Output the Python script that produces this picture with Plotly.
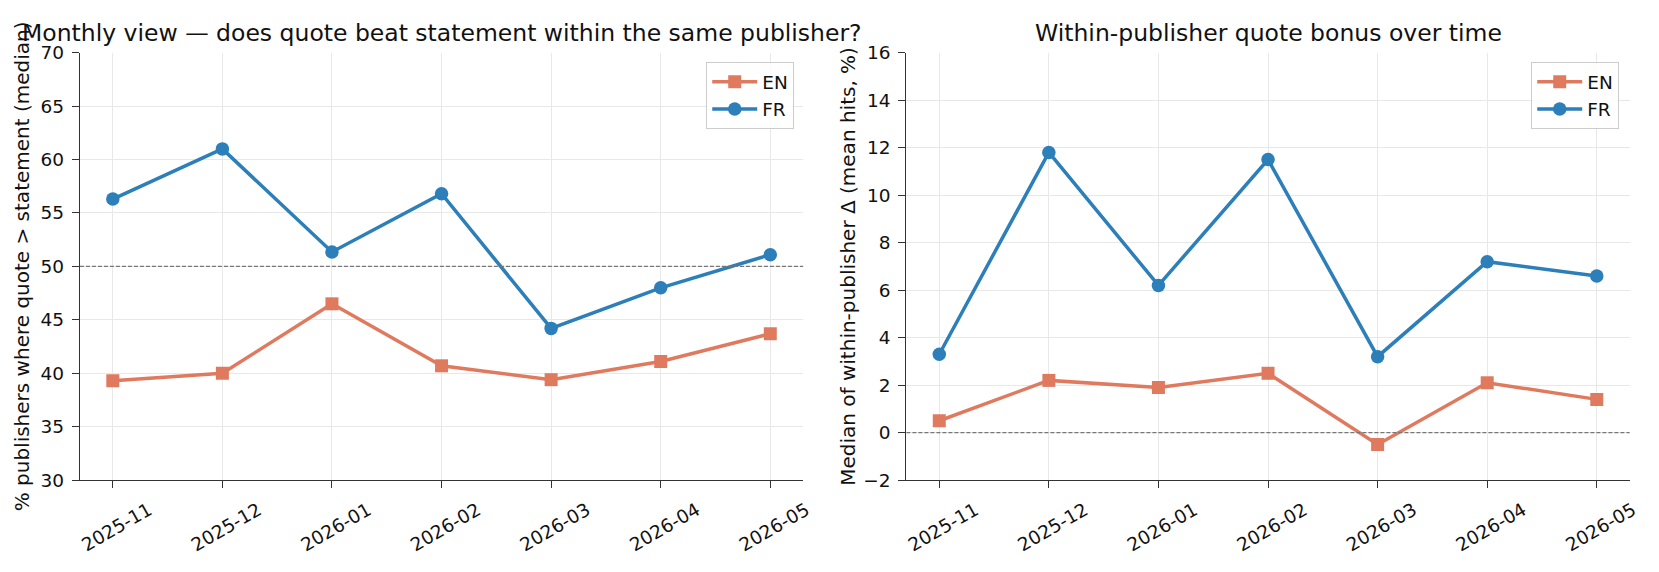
import plotly.graph_objects as go

months = ["2025-11", "2025-12", "2026-01", "2026-02", "2026-03", "2026-04", "2026-05"]
share_en = [39.3, 40.0, 46.5, 40.7, 39.4, 41.1, 43.7]
share_fr = [56.3, 61.0, 51.35, 56.8, 44.2, 48.0, 51.1]
delta_en = [0.5, 2.2, 1.9, 2.5, -0.5, 2.1, 1.4]
delta_fr = [3.3, 11.8, 6.2, 11.5, 3.2, 7.2, 6.6]

EN_COLOR = "#E07A5F"
FR_COLOR = "#2C7FB8"
FONT = "DejaVu Sans"
W, H = 1659, 572
TICK_SIZE = 18.5
LABEL_SIZE = 20
LEGEND_SIZE = 18.5
TITLE_SIZE = 23.5

idx = list(range(len(months)))


def series(y, name, color, symbol, msize, xa, ya, leg):
    return go.Scatter(x=idx, y=y, name=name, mode="lines+markers",
                      line=dict(color=color, width=3.5),
                      marker=dict(symbol=symbol, size=msize, color=color),
                      xaxis=xa, yaxis=ya, legend=leg)


fig = go.Figure()
fig.add_trace(series(share_en, "EN", EN_COLOR, "square", 13, "x", "y", "legend"))
fig.add_trace(series(share_fr, "FR", FR_COLOR, "circle", 13.5, "x", "y", "legend"))
fig.add_trace(series(delta_en, "EN", EN_COLOR, "square", 13, "x2", "y2", "legend2"))
fig.add_trace(series(delta_fr, "FR", FR_COLOR, "circle", 13.5, "x2", "y2", "legend2"))

x1d = [78.5 / W, 807 / W]
x2d = [911 / W, 1639.5 / W]
yd = [1 - 487 / H, 1 - 43.3 / H]

common_x = dict(tickmode="array", tickvals=idx, ticktext=months, tickangle=-30,
                ticklabelshift=36, ticklabelstandoff=4,
                range=[-0.3, 6.3], showgrid=True, gridcolor="#e8e8e8", gridwidth=1,
                showline=True, linecolor="#333333", linewidth=1.4,
                ticks="outside", ticklen=7, tickcolor="#333333", tickwidth=1.4,
                tickfont=dict(family=FONT, size=TICK_SIZE, color="#111111"), zeroline=False)
common_y = dict(showgrid=True, gridcolor="#e8e8e8", gridwidth=1,
                showline=True, linecolor="#333333", linewidth=1.4,
                ticks="outside", ticklen=7, tickcolor="#333333", tickwidth=1.4,
                ticklabelstandoff=4,
                tickfont=dict(family=FONT, size=TICK_SIZE, color="#111111"), zeroline=False)

legend_common = dict(xanchor="right", yanchor="top", itemwidth=45,
                     bgcolor="rgba(255,255,255,0.85)", bordercolor="#cccccc", borderwidth=1,
                     font=dict(family=FONT, size=LEGEND_SIZE, color="#111111"), tracegroupgap=0)

fig.update_layout(
    width=W, height=H,
    margin=dict(l=0, r=0, t=0, b=0),
    paper_bgcolor="white", plot_bgcolor="white",
    font=dict(family=FONT, size=LABEL_SIZE, color="#111111"),
    xaxis=dict(domain=x1d, anchor="y", **common_x),
    yaxis=dict(domain=yd, anchor="x", range=[30, 70], dtick=5,
               title=dict(text="% publishers where quote > statement (median)",
                          font=dict(family=FONT, size=LABEL_SIZE), standoff=5),
               **common_y),
    xaxis2=dict(domain=x2d, anchor="y2", **common_x),
    yaxis2=dict(domain=yd, anchor="x2", range=[-2, 16], dtick=2,
                title=dict(text="Median of within-publisher Δ (mean hits, %)",
                           font=dict(family=FONT, size=LABEL_SIZE), standoff=2),
                **common_y),
    legend=dict(x=x1d[1] - 9 / W, y=yd[1] - 10 / H, **legend_common),
    legend2=dict(x=x2d[1] - 10.5 / W, y=yd[1] - 10 / H, **legend_common),
    shapes=[
        dict(type="line", xref="x domain", yref="y", x0=0, x1=1, y0=50, y1=50,
             line=dict(color="#777777", width=1.4, dash="4px,2px"), layer="above"),
        dict(type="line", xref="x2 domain", yref="y2", x0=0, x1=1, y0=0, y1=0,
             line=dict(color="#777777", width=1.4, dash="4px,2px"), layer="above"),
    ],
    annotations=[
        dict(text="Monthly view — does quote beat statement within the same publisher?",
             xref="paper", yref="paper", x=(x1d[0] + x1d[1]) / 2, y=1 - 23 / H,
             xanchor="center", yanchor="middle", showarrow=False,
             font=dict(family=FONT, size=TITLE_SIZE, color="#111111")),
        dict(text="Within-publisher quote bonus over time",
             xref="paper", yref="paper", x=(x2d[0] + x2d[1]) / 2, y=1 - 23 / H,
             xanchor="center", yanchor="middle", showarrow=False,
             font=dict(family=FONT, size=TITLE_SIZE, color="#111111")),
    ],
)

fig.write_html("out.html")
